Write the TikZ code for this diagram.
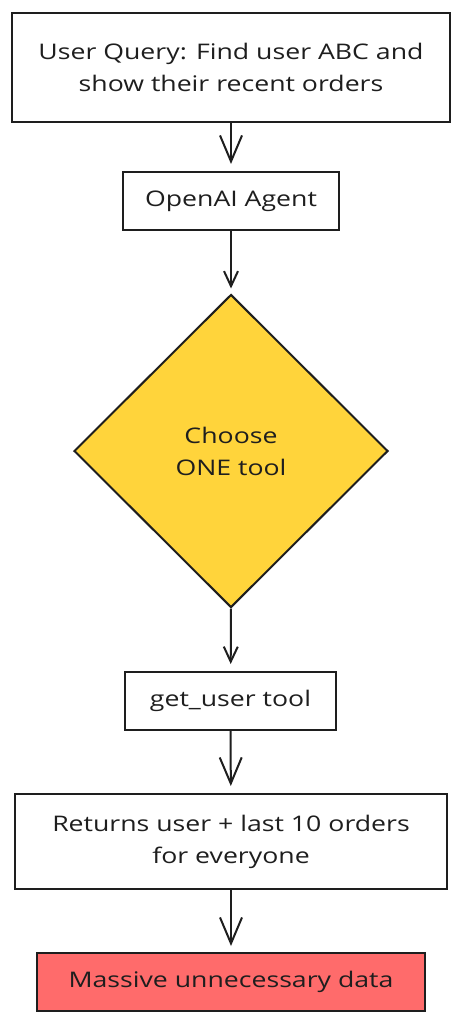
\documentclass[tikz,border=0pt]{standalone}
\usepackage{fontspec}
\setmainfont{Open Sans}[FakeStretch=1.24]
\usetikzlibrary{shapes.geometric,arrows.meta}
\definecolor{ink}{HTML}{1E1E1E}
\definecolor{yel}{HTML}{FFD43B}
\definecolor{redf}{HTML}{FF6B6B}
\tikzset{
  x=1pt,y=-1pt,
  box/.style={draw=ink,line width=2pt,align=center,inner sep=0pt,font=\fontsize{21.5}{32}\selectfont,text=ink},
  dia/.style={diamond,draw=ink,fill=yel,line width=2pt,align=center,inner sep=0pt,font=\fontsize{21.5}{32}\selectfont,text=ink},
  bigarr/.style={draw=ink,line width=2pt,-{Straight Barb[length=26pt,width=22pt,line width=2pt]}},
  smallarr/.style={draw=ink,line width=2pt,-{Straight Barb[length=15pt,width=14pt,line width=2pt]}}
}
\begin{document}
\begin{tikzpicture}
\useasboundingbox (0,0) rectangle (462,1024);
\fill[white] (0,0) rectangle (462,1024);
\node[box,minimum width=438pt,minimum height=109pt] (q) at (231,67.5) {User Query: Find user ABC and\\show their recent orders};
\node[box,minimum width=216pt,minimum height=58pt] (a) at (231,201) {OpenAI Agent};
\node[dia,minimum width=314pt,minimum height=313pt] (c) at (231,451) {Choose\\ONE tool};
\node[box,minimum width=211pt,minimum height=58pt] (g) at (230.5,701) {get\_user tool};
\node[box,minimum width=432pt,minimum height=95pt] (r) at (231,841.5) {Returns user + last 10 orders\\for everyone};
\node[box,fill=redf,minimum width=388pt,minimum height=58pt] (m) at (231,982) {Massive unnecessary data};
\draw[bigarr,shorten >=7pt] (q) -- (a);
\draw[smallarr,shorten >=5pt] (a) -- (c.north);
\draw[smallarr,shorten >=7pt] (c.south) -- (g);
\draw[bigarr,shorten >=7pt] (g) -- (r);
\draw[bigarr,shorten >=6pt] (r) -- (m);
\end{tikzpicture}
\end{document}
